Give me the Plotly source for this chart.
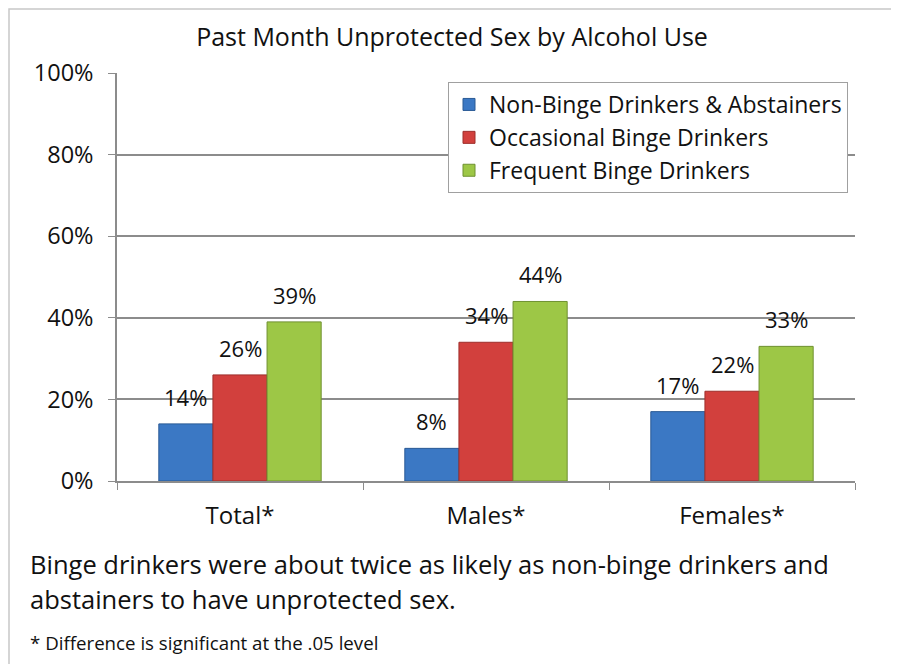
import plotly.graph_objects as go

# 데이터
groups = ['Total*', 'Males*', 'Females*']
series_names = ['Non-Binge Drinkers & Abstainers', 'Occasional Binge Drinkers', 'Frequent Binge Drinkers']
non_binge = [14, 8, 17]
occasional = [26, 34, 22]
frequent = [39, 44, 33]
y_ticks = [0, 20, 40, 60, 80, 100]
y_tick_labels = ['0%', '20%', '40%', '60%', '80%', '100%']

colors = ['#3B78C4', '#D2403D', '#9DC746']
edge_colors = ['#2A5A95', '#9E2E2B', '#6F9130']

FONT = 'Open Sans, sans-serif'
TXT = '#111111'

# 화면 좌표(px) -> plot 영역 paper 좌표 변환 (plot 영역: x 117~855, y 73~481)
def px(sx):
    return (sx - 117) / 738

def py(sy):
    return (481 - sy) / 408

fig = go.Figure()
all_vals = [non_binge, occasional, frequent]
for name, vals, c, ec in zip(series_names, all_vals, colors, edge_colors):
    fig.add_trace(go.Bar(
        x=groups,
        y=vals,
        name=name,
        marker=dict(color=c, line=dict(color=ec, width=1)),
    ))

# 막대 위 값 라벨 (막대 상단 위쪽에 조금 떨어져서 표시)
for i, vals in enumerate(all_vals):
    for g, v in zip(groups, vals):
        fig.add_annotation(x=g, y=v, text=f'{v}%', showarrow=False,
                           xshift=(i - 1) * 54.5, yshift=27, yanchor='middle',
                           font=dict(size=22, family=FONT, color=TXT))

fig.update_layout(
    width=899,
    height=664,
    barmode='group',
    bargap=0.34,
    bargroupgap=0.0,
    plot_bgcolor='white',
    paper_bgcolor='white',
    margin=dict(l=109, r=52, t=65, b=191),
    font=dict(family=FONT, size=24, color=TXT),
    title=dict(text='Past Month Unprotected Sex by Alcohol Use', x=(452 - 8) / 899, xanchor='center',
               y=1 - 29 / 664, yanchor='middle', font=dict(size=25, family=FONT, color=TXT)),
    legend=dict(x=px(448), y=py(82), xanchor='left', yanchor='top',
                bordercolor='#A0A0A0', borderwidth=1, bgcolor='white',
                font=dict(size=23, family=FONT), tracegroupgap=0),
    showlegend=True,
)

fig.update_yaxes(
    range=[0, 100],
    tickvals=y_ticks,
    ticktext=y_tick_labels,
    showgrid=True,
    gridcolor='#8C8C8C',
    gridwidth=1.5,
    showline=True,
    linecolor='#8C8C8C',
    linewidth=1.5,
    ticks='outside',
    ticklen=7,
    tickcolor='#8C8C8C',
    ticklabelstandoff=10,
    tickfont=dict(size=23.5, family=FONT),
    zeroline=False,
)
fig.update_xaxes(
    showline=True,
    linecolor='#8C8C8C',
    linewidth=1.5,
    ticks='outside',
    tickson='boundaries',
    ticklen=7,
    tickcolor='#8C8C8C',
    ticklabelstandoff=12,
    tickfont=dict(size=24, family=FONT),
    showgrid=False,
)

# 바깥 테두리 (왼쪽/위쪽만 화면에 보임)
fig.add_shape(type='rect', xref='paper', yref='paper',
              x0=px(9), x1=px(1000), y0=py(800), y1=py(9),
              line=dict(color='#C8C8C8', width=1.5), layer='below')

# 설명 문구
fig.add_annotation(text='Binge drinkers were about twice as likely as non-binge drinkers and',
                   xref='paper', yref='paper', x=px(28), y=py(564),
                   xanchor='left', yanchor='middle', showarrow=False,
                   font=dict(size=25.5, family=FONT, color=TXT))
fig.add_annotation(text='abstainers to have unprotected sex.',
                   xref='paper', yref='paper', x=px(28), y=py(599),
                   xanchor='left', yanchor='middle', showarrow=False,
                   font=dict(size=25.5, family=FONT, color=TXT))
fig.add_annotation(text='* Difference is significant at the .05 level',
                   xref='paper', yref='paper', x=px(28), y=py(642),
                   xanchor='left', yanchor='middle', showarrow=False,
                   font=dict(size=18.7, family=FONT, color=TXT))

fig.write_html('out.html')
